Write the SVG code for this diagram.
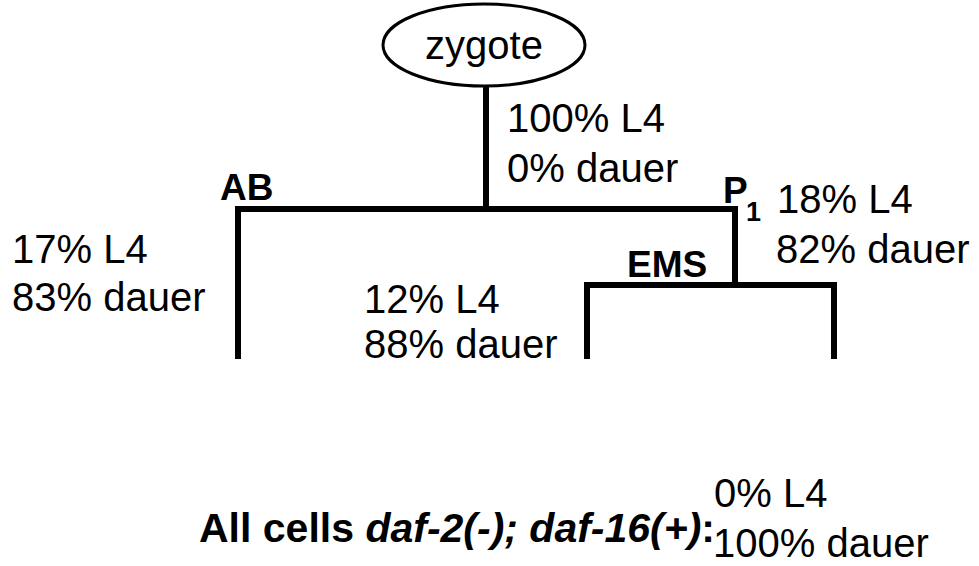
<svg xmlns="http://www.w3.org/2000/svg" width="979" height="566" viewBox="0 0 979 566">
<style>
.t{font-family:"Liberation Sans",Arial,sans-serif;font-size:40px;fill:#000}
.b{font-family:"Liberation Sans",Arial,sans-serif;font-size:37px;font-weight:bold;fill:#000}
.ln{stroke:#000;stroke-width:6;fill:none;stroke-linecap:square}
</style>
<rect width="979" height="566" fill="#fff"/>
<g id="connectors">
<path class="ln" d="M486,86 V209"/>
<path class="ln" d="M238,356 V209 H735 V285"/>
<path class="ln" d="M587,356 V285 H834 V356"/>
</g>
<g id="zygote">
<ellipse cx="484" cy="45" rx="101" ry="41" fill="#fff" stroke="#000" stroke-width="3"/>
<text class="t" x="484" y="59" text-anchor="middle">zygote</text>
</g>
<g id="zygote-stats">
<text class="t" x="507" y="132">100% L4</text>
<text class="t" x="507" y="182">0% dauer</text>
</g>
<g id="AB">
<text class="b" x="220" y="200">AB</text>
</g>
<g id="AB-stats">
<text class="t" x="12" y="263">17% L4</text>
<text class="t" x="12" y="311">83% dauer</text>
</g>
<g id="P1">
<text class="b" x="723" y="203">P</text>
<text class="t" x="746" y="221" style="font-size:27px;font-weight:bold">1</text>
</g>
<g id="P1-stats">
<text class="t" x="777" y="213">18% L4</text>
<text class="t" x="776" y="263">82% dauer</text>
</g>
<g id="EMS">
<text class="b" x="627" y="277">EMS</text>
</g>
<g id="EMS-stats">
<text class="t" x="364" y="313">12% L4</text>
<text class="t" x="364" y="358">88% dauer</text>
</g>
<g id="all-cells">
<text class="b" x="199" y="542" style="font-size:41px">All cells <tspan font-style="italic">daf-2(-); daf-16(+)</tspan>:</text>
<text class="t" x="714" y="507">0% L4</text>
<text class="t" x="713" y="557">100% dauer</text>
</g>
</svg>
